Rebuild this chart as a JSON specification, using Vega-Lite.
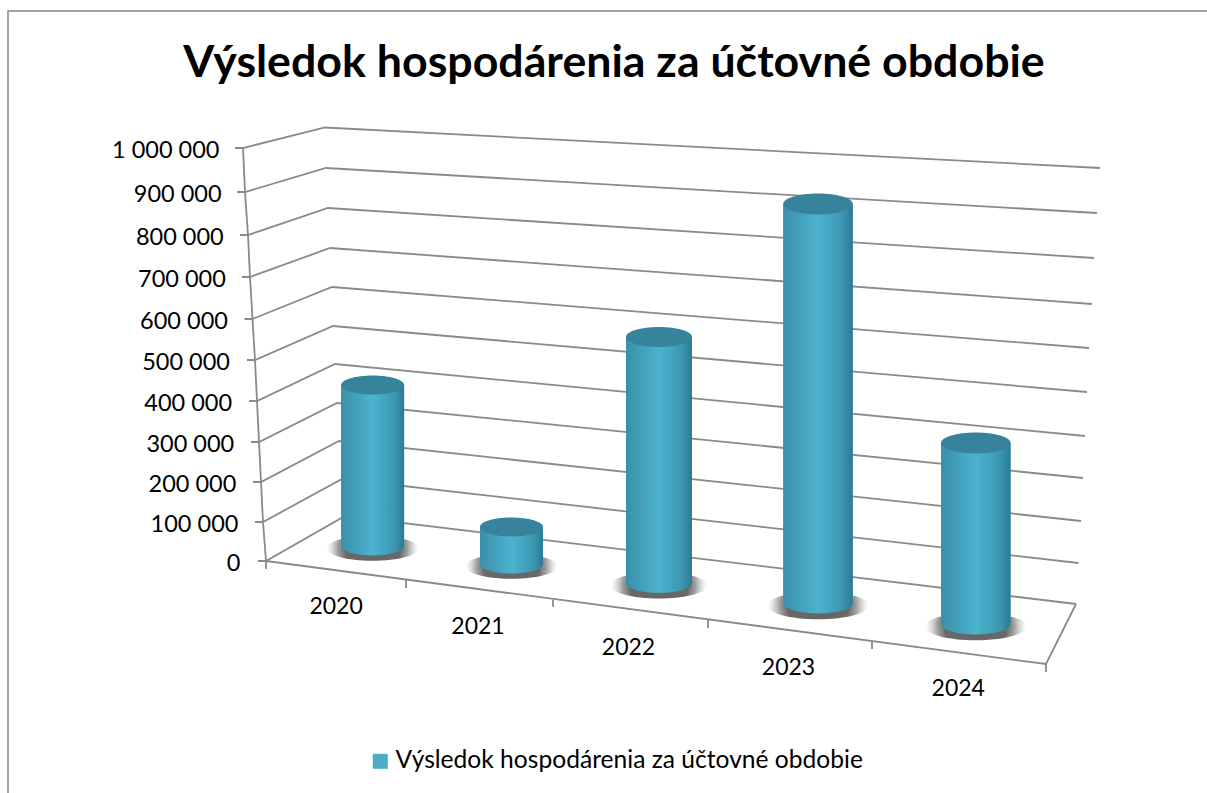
{
"$schema":"https://vega.github.io/schema/vega-lite/v6.json",
"width":1200,"height":783,
"autosize":{"type":"none"},
"padding":{"left":8,"top":11,"right":0,"bottom":0},
"background":"white",
"config":{"view":{"stroke":"#868686","strokeWidth":1.5},"font":"Lato"},
"title":{"text":"Výsledok hospodárenia za účtovné obdobie","fontSize":44.7,"fontWeight":"bold","font":"Lato","color":"#000000","offset":-76,"anchor":"middle","dx":6},
"layer":[
{"data":{"values":[
{"line":"g0","v":0},{"line":"g0","v":20},{"line":"g0","v":40},{"line":"g0","v":60},
{"line":"g1","v":1},{"line":"g1","v":21},{"line":"g1","v":41},{"line":"g1","v":61},
{"line":"g2","v":2},{"line":"g2","v":22},{"line":"g2","v":42},{"line":"g2","v":62},
{"line":"g3","v":3},{"line":"g3","v":23},{"line":"g3","v":43},{"line":"g3","v":63},
{"line":"g4","v":4},{"line":"g4","v":24},{"line":"g4","v":44},{"line":"g4","v":64},
{"line":"g5","v":5},{"line":"g5","v":25},{"line":"g5","v":45},{"line":"g5","v":65},
{"line":"g6","v":6},{"line":"g6","v":26},{"line":"g6","v":46},{"line":"g6","v":66},
{"line":"g7","v":7},{"line":"g7","v":27},{"line":"g7","v":47},{"line":"g7","v":67},
{"line":"g8","v":8},{"line":"g8","v":28},{"line":"g8","v":48},{"line":"g8","v":68},
{"line":"g9","v":9},{"line":"g9","v":29},{"line":"g9","v":49},{"line":"g9","v":69},
{"line":"g10","v":10},{"line":"g10","v":30},{"line":"g10","v":50},{"line":"g10","v":70},
{"line":"yaxis","v":20},{"line":"yaxis","v":21},{"line":"yaxis","v":22},{"line":"yaxis","v":23},{"line":"yaxis","v":24},{"line":"yaxis","v":25},{"line":"yaxis","v":26},{"line":"yaxis","v":27},{"line":"yaxis","v":28},{"line":"yaxis","v":29},{"line":"yaxis","v":30},
{"line":"floor","v":20},{"line":"floor","v":55},{"line":"floor","v":60},
{"line":"t5","v":55},{"line":"t5","v":56},
{"line":"t1","v":90},{"line":"t1","v":91},
{"line":"t2","v":92},{"line":"t2","v":93},
{"line":"t3","v":94},{"line":"t3","v":95},
{"line":"t4","v":96},{"line":"t4","v":97},
{"line":"t0","v":98},{"line":"t0","v":99}
]},
"mark":{"type":"line","color":"#8a8a8a","strokeWidth":1.8},
"encoding":{
"detail":{"field":"line","type":"nominal"},
"x":{"field":"v","type":"quantitative","axis":null,"scale":{"zero":false,"nice":false,
"domain":[0,1,2,3,4,5,6,7,8,9,10,20,21,22,23,24,25,26,27,28,29,30,40,41,42,43,44,45,46,47,48,49,50,55,56,60,61,62,63,64,65,66,67,68,69,70,90,91,92,93,94,95,96,97,98,99],
"range":[250,247,245,243,241,239,236.5,234,232,229,227,258,255,253,251,249,247,244.5,242,240,237,235,337,334,331,329,327,325,324,322,320,318,317,1038,1038,1068,1070.5,1073,1075,1077,1079,1081,1084,1086,1089,1092,398,398,545,545,700,700,864,864,258,258]}},
"y":{"field":"v","type":"quantitative","axis":null,"scale":{"zero":false,"nice":false,
"domain":[0,1,2,3,4,5,6,7,8,9,10,20,21,22,23,24,25,26,27,28,29,30,40,41,42,43,44,45,46,47,48,49,50,55,56,60,61,62,63,64,65,66,67,68,69,70,90,91,92,93,94,95,96,97,98,99],
"range":[550,511,471,431,390,349,308,266,224,181,137,550,511,471,431,390,349,308,266,224,181,137,505,468,430,392,353,315,276,237,197,157,116.5,653,661,593,552,510,467,425,381,337,293,247,202,157,569,577,589,596,609,617,630,638,550,558]}}
}},
{"data":{"values":[{"tick":0},{"tick":100000},{"tick":200000},{"tick":300000},{"tick":400000},{"tick":500000},{"tick":600000},{"tick":700000},{"tick":800000},{"tick":900000},{"tick":1000000}]},
"mark":{"type":"point","opacity":0},
"encoding":{"y":{"field":"tick","type":"quantitative",
"scale":{"zero":false,"nice":false,"domain":[0,100000,200000,300000,400000,500000,600000,700000,800000,900000,1000000],"range":[550,511,471,431,390,349,308,266,224,181,137]},
"axis":{"title":null,"orient":"left","offset":-232,"domain":false,"ticks":false,"grid":false,"labelPadding":0,"labelFontSize":23.5,"labelFont":"Lato","labelColor":"#000000",
"values":[0,100000,200000,300000,400000,500000,600000,700000,800000,900000,1000000],
"labelExpr":"replace(format(datum.value,','),/,/g,' ')",
"labelOverlap":false,"labelBound":false,"labelFlush":false,
"encoding":{"labels":{"dx":{"value":{"expr":"-21*datum.value/1000000"}},"dy":{"value":2}}}}}}},
{"data":{"values":[
{"year":2020,"value":402000,"series":"Výsledok hospodárenia za účtovné obdobie"},
{"year":2021,"value":91000,"series":"Výsledok hospodárenia za účtovné obdobie"},
{"year":2022,"value":593000,"series":"Výsledok hospodárenia za účtovné obdobie"},
{"year":2023,"value":939000,"series":"Výsledok hospodárenia za účtovné obdobie"},
{"year":2024,"value":421000,"series":"Výsledok hospodárenia za účtovné obdobie"}]},
"encoding":{
"x":{"field":"year","type":"quantitative","scale":{"zero":false,"nice":false,"domain":[2020,2021,2022,2023,2024],"range":[360,503.5,651,810,973]},
"axis":{"title":null,"orient":"bottom","offset":-199,"domain":false,"ticks":false,"grid":false,"labelPadding":0,"labelFontSize":23,"labelFont":"Lato","labelColor":"#000000","format":"d","values":[2020,2021,2022,2023,2024],"labelOverlap":false,"labelBound":false,"labelFlush":false,
"encoding":{"labels":{"dx":{"value":{"expr":"datum.value==2024?-18:(datum.value==2023?-30:(datum.value==2022?-31:(datum.value==2021?-34:-37)))"}},"dy":{"value":{"expr":"(datum.value-2020)*20.5"}}}}}},
"y":{"field":"value","type":"quantitative","axis":null,"scale":{"zero":false,"nice":false,"domain":[2020,2021,2022,2023,2024,91000,402000,421000,593000,939000],"range":[535,553,572,592,613,516,374,432,326,193]}}
},
"resolve":{"scale":{"size":"independent"}},
"layer":[
{"mark":{"type":"point","filled":true,"opacity":1,"shape":"M-1,0.05A1,0.27 0 1,1 1,0.05A1,0.27 0 1,1 -1,0.05Z","fill":{"gradient":"radial","x1":0.5,"y1":0.5,"x2":0.5,"y2":0.5,"r1":0,"r2":0.5,"stops":[{"offset":0,"color":"rgba(100,100,100,1)"},{"offset":0.6,"color":"rgba(105,105,105,1)"},{"offset":0.75,"color":"rgba(135,135,135,0.8)"},{"offset":0.9,"color":"rgba(180,180,180,0.35)"},{"offset":1,"color":"rgba(210,210,210,0)"}]}},
"encoding":{"y":{"field":"year","type":"quantitative"},"size":{"field":"year","type":"quantitative","legend":null,"scale":{"zero":false,"domain":[2020,2021,2022,2023,2024],"range":[8600,8600,9400,10400,10400]}}}},
{"mark":{"type":"point","filled":true,"opacity":1,"shape":"M-1,0A1,0.3 0 1,1 1,0A1,0.3 0 1,1 -1,0Z","fill":{"gradient":"linear","x1":0,"y1":0,"x2":1,"y2":0,"stops":[{"offset":0,"color":"#3a8fa9"},{"offset":0.5,"color":"#4cb3cf"},{"offset":0.85,"color":"#3b97b1"},{"offset":1,"color":"#2d7a93"}]}},
"encoding":{"y":{"field":"year","type":"quantitative"},"size":{"field":"year","type":"quantitative","legend":null,"scale":{"zero":false,"domain":[2020,2021,2022,2023,2024],"range":[3969,3969,4356,4830,4830]}}}},
{"mark":{"type":"bar"},
"encoding":{"y2":{"field":"year"},
"size":{"field":"year","type":"quantitative","legend":null,"scale":{"zero":false,"domain":[2020,2021,2022,2023,2024],"range":[63,63,66,69.5,69.5]}},
"color":{"field":"series","type":"nominal","scale":{"range":["#4BACC6"]},
"legend":{"title":null,"orient":"none","legendX":360,"legendY":738,"symbolType":"square","symbolSize":225,"labelFontSize":24.6,"labelFont":"Lato","labelColor":"#000000","labelLimit":700,"labelOffset":3,"symbolStrokeWidth":0,"symbolOpacity":1}}}},
{"mark":{"type":"bar","fill":{"gradient":"linear","x1":0,"y1":0,"x2":1,"y2":0,"stops":[{"offset":0,"color":"#3a8fa9"},{"offset":0.5,"color":"#4cb3cf"},{"offset":0.85,"color":"#3b97b1"},{"offset":1,"color":"#2d7a93"}]}},
"encoding":{"y2":{"field":"year"},
"size":{"field":"year","type":"quantitative","legend":null,"scale":{"zero":false,"domain":[2020,2021,2022,2023,2024],"range":[63,63,66,69.5,69.5]}}}},
{"mark":{"type":"point","filled":true,"opacity":1,"color":"#37839B","shape":"M-1,0A1,0.3 0 1,1 1,0A1,0.3 0 1,1 -1,0Z"},
"encoding":{"size":{"field":"year","type":"quantitative","legend":null,"scale":{"zero":false,"domain":[2020,2021,2022,2023,2024],"range":[3969,3969,4356,4830,4830]}}}}
]}
],
"resolve":{"scale":{"x":"independent","y":"independent"}}
}
